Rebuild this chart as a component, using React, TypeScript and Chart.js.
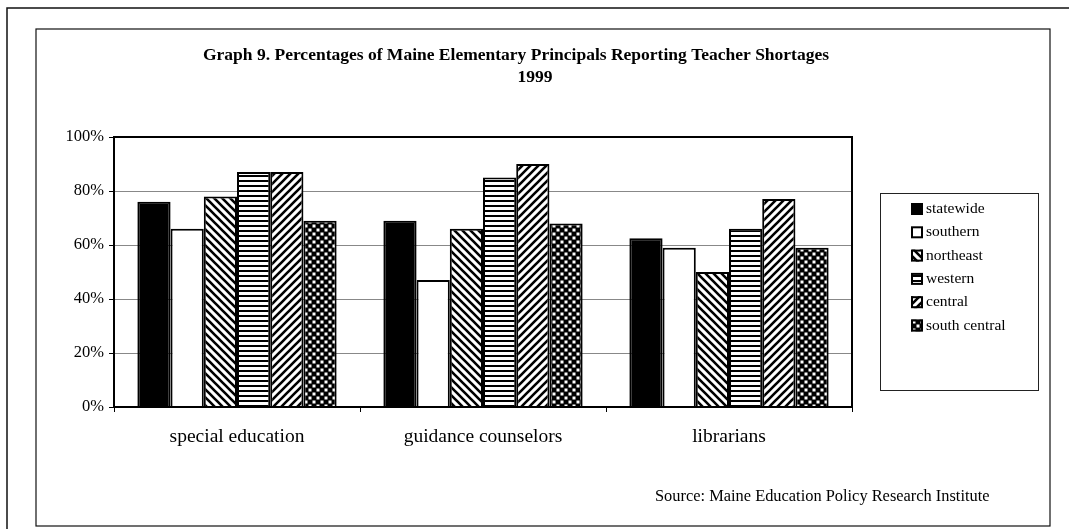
import React, { useEffect, useRef } from "react";
import { Chart, registerables } from "chart.js";

Chart.register(...registerables);

const TITLE_LINES = [
  "Graph 9. Percentages of Maine Elementary Principals Reporting Teacher Shortages",
  "1999",
];
const SOURCE = "Source: Maine Education Policy Research Institute";
const CATEGORIES = ["special education", "guidance counselors", "librarians"];
const SERIES_NAMES = ["statewide", "southern", "northeast", "western", "central", "south central"];
const STATEWIDE = [76, 69, 62.5];
const SOUTHERN = [66, 47, 59];
const NORTHEAST = [78, 66, 50];
const WESTERN = [87, 85, 66];
const CENTRAL = [87, 90, 77];
const SOUTH_CENTRAL = [69, 68, 59];
const Y_TICKS = [0, 20, 40, 60, 80, 100];

const SERIES = [STATEWIDE, SOUTHERN, NORTHEAST, WESTERN, CENTRAL, SOUTH_CENTRAL];
const FONT = "'Liberation Serif', 'Times New Roman', serif";

function makePattern(kind: string): CanvasPattern | string {
  if (kind === "solid") return "#000";
  if (kind === "white") return "#fff";
  const c = document.createElement("canvas");
  const ctx = c.getContext("2d")!;
  if (kind === "back" || kind === "fwd") {
    const s = 8;
    c.width = s;
    c.height = s;
    ctx.fillStyle = "#fff";
    ctx.fillRect(0, 0, s, s);
    ctx.strokeStyle = "#000";
    ctx.lineWidth = 2.6;
    ctx.beginPath();
    if (kind === "back") {
      for (let k = -1; k <= 1; k++) {
        ctx.moveTo(k * s - 1, -1);
        ctx.lineTo(k * s + s + 1, s + 1);
      }
    } else {
      for (let k = -1; k <= 1; k++) {
        ctx.moveTo(k * s - 1, s + 1);
        ctx.lineTo(k * s + s + 1, -1);
      }
    }
    ctx.stroke();
  } else if (kind === "horiz") {
    c.width = 4;
    c.height = 5;
    ctx.fillStyle = "#fff";
    ctx.fillRect(0, 0, 4, 5);
    ctx.fillStyle = "#000";
    ctx.fillRect(0, 0, 4, 2);
  } else if (kind === "check") {
    c.width = 8;
    c.height = 8;
    ctx.fillStyle = "#000";
    ctx.fillRect(0, 0, 8, 8);
    ctx.fillStyle = "#fff";
    ctx.fillRect(0.5, 0.5, 3, 3);
    ctx.fillRect(4.5, 4.5, 3, 3);
  }
  return ctx.createPattern(c, "repeat")!;
}

const PATTERN_KINDS = ["solid", "white", "back", "horiz", "fwd", "check"];

const decorPlugin = {
  id: "decor",
  afterDraw(chart: any) {
    const ctx = chart.ctx as CanvasRenderingContext2D;
    const area = chart.chartArea;
    ctx.save();
    // frames
    ctx.strokeStyle = "#111";
    ctx.lineWidth = 1.5;
    ctx.beginPath();
    ctx.moveTo(1075, 8);
    ctx.lineTo(7, 8);
    ctx.lineTo(7, 540);
    ctx.stroke();
    ctx.lineWidth = 1.2;
    ctx.strokeRect(36, 29, 1014, 497);
    // plot border
    ctx.strokeStyle = "#000";
    ctx.lineWidth = 2;
    ctx.strokeRect(area.left, area.top, area.right - area.left, area.bottom - area.top);
    // title
    ctx.fillStyle = "#000";
    ctx.textAlign = "center";
    ctx.textBaseline = "middle";
    ctx.font = `bold 17.5px ${FONT}`;
    ctx.fillText(TITLE_LINES[0], 516, 55);
    ctx.fillText(TITLE_LINES[1], 535, 77);
    // source
    ctx.font = `16.4px ${FONT}`;
    ctx.textAlign = "left";
    ctx.fillText(SOURCE, 655, 497);
    // legend
    ctx.strokeStyle = "#222";
    ctx.lineWidth = 1;
    ctx.strokeRect(880.5, 193.5, 158, 197);
    ctx.font = `15.5px ${FONT}`;
    chart.data.datasets.forEach((ds: any, i: number) => {
      const y = 209 + i * 23.3;
      ctx.fillStyle = ds.backgroundColor;
      ctx.fillRect(911, y - 6, 12, 12);
      ctx.strokeStyle = "#000";
      ctx.lineWidth = 2;
      ctx.strokeRect(912, y - 5, 10, 10);
      ctx.fillStyle = "#000";
      ctx.textAlign = "left";
      ctx.textBaseline = "middle";
      ctx.fillText(ds.label, 926, y);
    });
    ctx.restore();
  },
};

export default function App() {
  const ref = useRef<HTMLCanvasElement | null>(null);
  useEffect(() => {
    document.body.style.margin = "0";
    const canvas = ref.current!;
    const chart = new Chart(canvas, {
      type: "bar",
      data: {
        labels: CATEGORIES,
        datasets: SERIES.map((vals, i) => ({
          label: SERIES_NAMES[i],
          data: vals,
          backgroundColor: makePattern(PATTERN_KINDS[i]) as any,
          borderColor: "#000",
          borderWidth: 2,
          categoryPercentage: 0.81,
          barPercentage: 1,
        })),
      },
      options: {
        animation: false,
        responsive: false,
        devicePixelRatio: 1,
        layout: { padding: { top: 137, left: 0, right: 217, bottom: 0 } },
        plugins: {
          legend: { display: false },
          title: { display: false },
          tooltip: { enabled: false },
        },
        scales: {
          x: {
            grid: { display: true, drawOnChartArea: false, drawTicks: true, tickLength: 5, color: "#000", offset: true },
            border: { display: false },
            ticks: { color: "#000", font: { family: FONT, size: 19.5 }, padding: 13 },
            afterFit: (s: any) => {
              s.height = 122;
            },
          },
          y: {
            min: 0,
            max: 100,
            afterBuildTicks: (s: any) => {
              s.ticks = Y_TICKS.map((v) => ({ value: v }));
            },
            grid: { color: "#888", lineWidth: 1, tickLength: 5, tickColor: "#000" },
            border: { display: false },
            ticks: {
              color: "#000",
              font: { family: FONT, size: 16.5 },
              padding: 5,
              callback: (v: any) => `${v}%`,
            },
            afterFit: (s: any) => {
              s.width = 114;
            },
          },
        },
      },
      plugins: [decorPlugin],
    });
    return () => chart.destroy();
  }, []);
  return (
    <div style={{ width: 1069, height: 529, background: "#fff" }}>
      <canvas ref={ref} width={1069} height={529} style={{ display: "block" }} />
    </div>
  );
}
